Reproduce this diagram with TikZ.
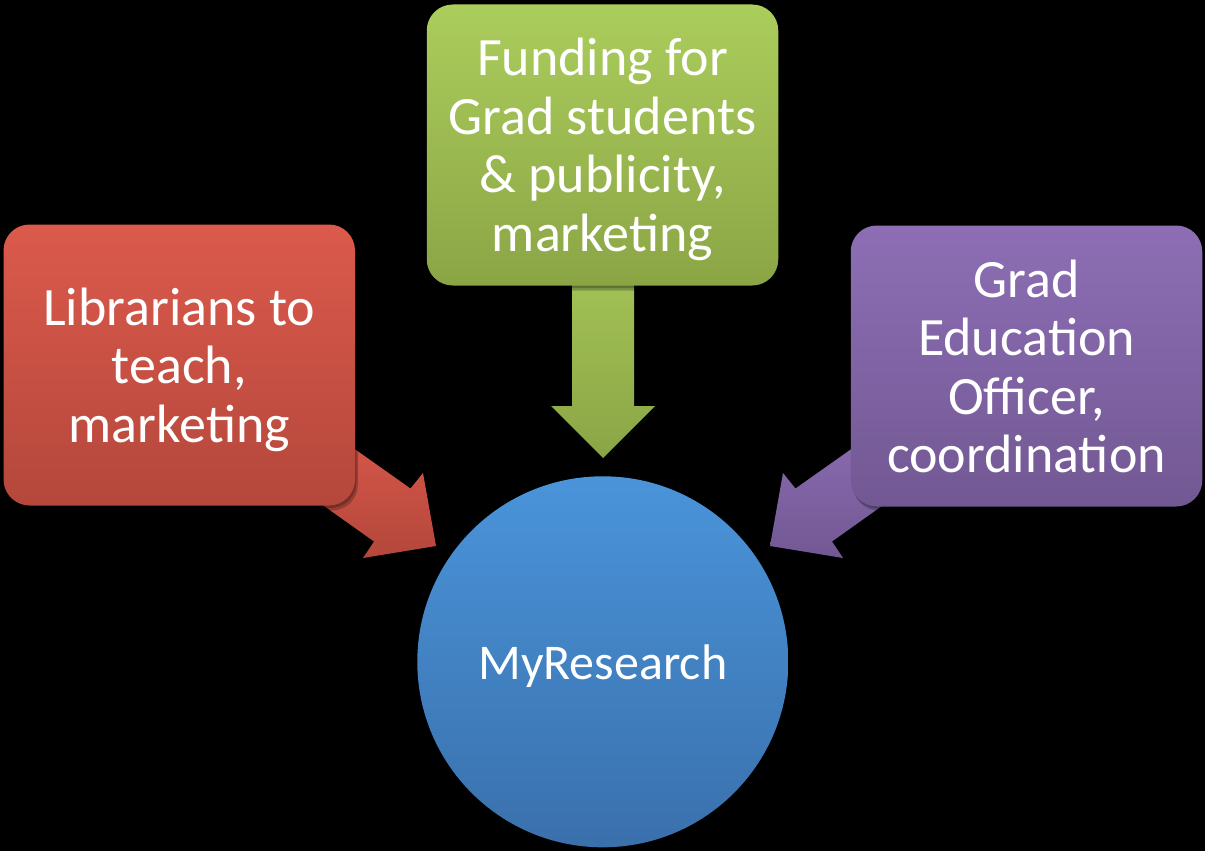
\documentclass[tikz,border=0pt]{standalone}
\usepackage{fontspec}
\setmainfont{Carlito}
\definecolor{redtop}{HTML}{DB5A4C}
\definecolor{redbot}{HTML}{B4473B}
\definecolor{grntop}{HTML}{ABCD5C}
\definecolor{grnbot}{HTML}{8BA545}
\definecolor{purtop}{HTML}{8D6EB5}
\definecolor{purbot}{HTML}{725893}
\definecolor{blutop}{HTML}{4A94DA}
\definecolor{blubot}{HTML}{3A70AC}
\begin{document}
\begin{tikzpicture}[x=1pt,y=-1pt,
  box/.style={rectangle, rounded corners=26pt, minimum width=351.5pt, minimum height=281pt,
    inner sep=0pt, align=center, text=white, text depth=0pt,
    font=\fontsize{54}{58.5}\selectfont},
  hub/.style={circle, minimum size=371pt, inner sep=0pt, text=white, text depth=0pt,
    font=\fontsize{50}{56}\selectfont, top color=blutop, bottom color=blubot},
  boxshadow/.style={fill=black, opacity=0.22, rounded corners=26pt}
]
\fill[black] (0,0) rectangle (1205,851);
\useasboundingbox (0,0) rectangle (1205,851);

% centre hub
\node[hub] (hub) at (602.8,661.8) {MyResearch};

% block arrows (drawn under the boxes)
\fill[top color=redtop, bottom color=redbot]
  (303,412.5) -- (410.5,488.5) -- (423,473) -- (436,546) -- (363,558) -- (374,541.5) -- (266.5,465) -- cycle;
\fill[top color=grntop, bottom color=grnbot]
  (572,200) -- (634,200) -- (634,406) -- (655,406) -- (603,458) -- (551,406) -- (572,406) -- cycle;
\fill[top color=purtop, bottom color=purbot]
  (903,412.5) -- (795.5,488.5) -- (783,473) -- (770,546) -- (843,558) -- (832,541.5) -- (939.5,465) -- cycle;

% box shadows
\foreach \cx/\cy in {179.25/365, 602.5/145, 1026.5/365}{
  \fill[boxshadow] (\cx-175.75+2,\cy-140.5+3) rectangle (\cx+175.75+3,\cy+140.5+5);
  \fill[boxshadow] (\cx-175.75+1,\cy-140.5+1) rectangle (\cx+175.75+1.5,\cy+140.5+2.5);
}

% boxes
\node[box, top color=redtop, bottom color=redbot] (lib) at (179.25,365)
  {Librarians to\\teach,\\marketing};
\node[box, top color=grntop, bottom color=grnbot] (fund) at (602.5,145)
  {Funding for\\Grad students\\\& publicity,\\marketing};
\node[box, top color=purtop, bottom color=purbot] (grad) at (1026.5,366)
  {Grad\\Education\\Officer,\\coordination};
\end{tikzpicture}
\end{document}
